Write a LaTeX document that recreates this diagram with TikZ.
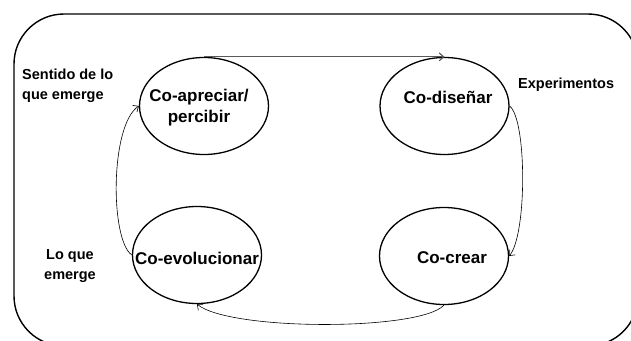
\documentclass[tikz,border=0pt]{standalone}
\usepackage{fontspec}
\setmainfont{Liberation Sans}
\usetikzlibrary{shapes.geometric,arrows.meta}
\begin{document}
\begin{tikzpicture}[x=1pt,y=-1pt,
  stage/.style={ellipse, draw, line width=1.3pt, minimum width=129pt, minimum height=97pt, inner sep=0pt},
  stagetext/.style={font=\fontsize{17}{21}\selectfont\bfseries, align=center, inner sep=0pt},
  sidetext/.style={font=\fontsize{14.5}{20}\selectfont\bfseries, inner sep=0pt},
  conn/.style={line width=0.6pt, -{Straight Barb[length=4.5pt,width=8pt]}}]
\useasboundingbox (0,0) rectangle (631,340);
\clip (0,0) rectangle (631,340);
\fill[white] (0,0) rectangle (631,340);
% outer frame
\draw[line width=1.4pt, rounded corners=50pt] (14,14) rectangle (638,346);
% stages
\node[stage] (e1) at (204,106) {};
\node[stage] (e2) at (444.5,106) {};
\node[stage] (e3) at (197,255) {};
\node[stage] (e4) at (444,256) {};
\node[stagetext] (t1) at (199,108) {Co-apreciar/\\percibir};
\node[stagetext] (t2) at (448,97) {Co-diseñar};
\node[stagetext] (t3) at (197,258) {Co-evolucionar};
\node[stagetext] (t4) at (452,258) {Co-crear};
% side labels
\node[sidetext, align=left, anchor=west] (s1) at (22,86) {Sentido de lo\\que emerge};
\node[sidetext, anchor=west] (s2) at (518,85) {Experimentos};
\node[sidetext, align=center] (s3) at (70,266) {Lo que\\emerge};
% connectors
\draw[conn, line width=1.1pt, black!65] (e1.north) -- (e2.north);
\draw[conn] (e2.east) .. controls (527,120) and (527,235) .. (e4.east);
\draw[conn] (e4.south) .. controls (420,331) and (230,331) .. (e3.south);
\draw[conn] (e3.west) .. controls (110,240) and (110,125) .. (e1.west);
\end{tikzpicture}
\end{document}
